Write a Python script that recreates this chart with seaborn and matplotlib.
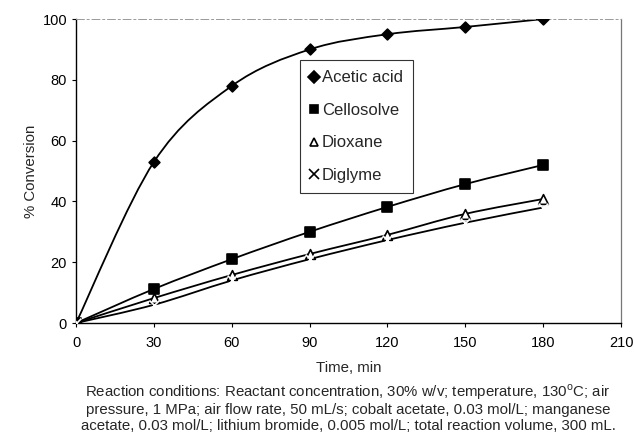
import numpy as np
import pandas as pd
import matplotlib
matplotlib.use("Agg")
import matplotlib.pyplot as plt
from matplotlib.path import Path
from matplotlib.patches import PathPatch
import seaborn as sns

# Reaction time (min) and % conversion for each solvent
time_min = [0, 30, 60, 90, 120, 150, 180]
acetic_acid = [0, 53, 78, 90, 95, 97.4, 100]
cellosolve = [0, 11.2, 21, 30, 38.2, 45.7, 52]
dioxane = [0, 8.2, 15.8, 22.7, 29, 35.9, 40.8]
diglyme = [0, 6, 14, 21, 27.3, 33, 38]

solvents = ["Acetic acid", "Cellosolve", "Dioxane", "Diglyme"]
x_ticks = [0, 30, 60, 90, 120, 150, 180, 210]
y_ticks = [0, 20, 40, 60, 80, 100]

caption_lines = [
    "Reaction conditions: Reactant concentration, 30% w/v; temperature, 130$^{\\mathrm{o}}$C; air",
    "pressure, 1 MPa; air flow rate, 50 mL/s; cobalt acetate, 0.03 mol/L; manganese",
    "acetate, 0.03 mol/L; lithium bromide, 0.005 mol/L; total reaction volume, 300 mL.",
]

df = pd.DataFrame({
    "Time": time_min * 4,
    "Conversion": acetic_acid + cellosolve + dioxane + diglyme,
    "Solvent": sum([[s] * len(time_min) for s in solvents], []),
})

sns.set_theme(style="white")
plt.rcParams["font.family"] = ["Liberation Sans", "DejaVu Sans"]
plt.rcParams["mathtext.fontset"] = "custom"
plt.rcParams["mathtext.rm"] = "Liberation Sans"

fig = plt.figure(figsize=(6.34, 4.33), dpi=100)
ax = fig.add_axes([0.12, 0.254, 0.8595, 0.702])


def smooth_curve(ax, xs, ys):
    """Draw a smoothed line through the points using Catmull-Rom Bezier segments."""
    pts = np.column_stack([xs, ys]).astype(float)
    verts = [pts[0]]
    codes = [Path.MOVETO]
    n = len(pts)
    for i in range(n - 1):
        p0 = pts[i - 1] if i > 0 else pts[i]
        p1 = pts[i]
        p2 = pts[i + 1]
        p3 = pts[i + 2] if i + 2 < n else pts[i + 1]
        c1 = p1 + (p2 - p0) / 6.0
        c2 = p2 - (p3 - p1) / 6.0
        verts += [c1, c2, p2]
        codes += [Path.CURVE4] * 3
    ax.add_patch(PathPatch(Path(verts, codes), facecolor="none",
                           edgecolor="black", lw=1.3, zorder=2))


for vals in [acetic_acid, cellosolve, dioxane, diglyme]:
    smooth_curve(ax, time_min, vals)

markers = {"Acetic acid": "D", "Cellosolve": "s", "Dioxane": "^", "Diglyme": "x"}
sizes = {"Acetic acid": 6, "Cellosolve": 7, "Dioxane": 7, "Diglyme": 7}
for s in solvents:
    sub = df[df["Solvent"] == s]
    m = markers[s]
    filled = m in ("D", "s")
    sns.scatterplot(data=sub, x="Time", y="Conversion", ax=ax, marker=m,
                    s=sizes[s] ** 2 if m != "D" else 30,
                    color="black",
                    facecolor="black" if filled else "white",
                    edgecolor="black", linewidth=1.2, zorder=3, label=s,
                    legend=False)

ax.set_xlim(0, 210)
ax.set_ylim(0, 100)
ax.set_xticks(x_ticks)
ax.set_yticks(y_ticks)
ax.tick_params(axis="both", labelsize=10.5, colors="black", length=3, width=0.8,
               direction="out", bottom=True, left=True)
ax.tick_params(axis="x", pad=6)
ax.set_xlabel("Time, min", fontsize=10.8, labelpad=8)
ax.set_ylabel("% Conversion", fontsize=10.8, labelpad=3)

for side in ["left", "bottom"]:
    ax.spines[side].set_color("black")
    ax.spines[side].set_linewidth(1.0)
ax.spines["top"].set_color("#999999")
ax.spines["top"].set_linestyle((0, (8, 3, 2, 3)))
ax.spines["top"].set_linewidth(0.7)
ax.spines["right"].set_color("#777777")
ax.spines["right"].set_linewidth(0.9)

# Legend with marker-only handles
handles = []
for s in solvents:
    m = markers[s]
    filled = m in ("D", "s")
    h = plt.Line2D([], [], linestyle="none", marker=m, color="black",
                   markerfacecolor="black" if filled else "white",
                   markeredgecolor="black",
                   markersize=6 if m != "x" else 7, markeredgewidth=1.2)
    handles.append(h)
leg = ax.legend(handles, solvents, loc="upper left",
                bbox_to_anchor=(0.411, 0.865), frameon=True, fontsize=12,
                handlelength=0.45, handletextpad=0.25, labelspacing=1.05,
                borderpad=0.62, borderaxespad=0, fancybox=False)
leg.get_frame().set_edgecolor("black")
leg.get_frame().set_linewidth(0.8)

# Caption below the axis title, one line at a time
for line, ybase in zip(caption_lines, [0.0831, 0.0439, 0.0069]):
    fig.text(0.549, ybase, line, ha="center", va="baseline", fontsize=10.8)

fig.savefig("out.png", dpi=100, facecolor="white")
